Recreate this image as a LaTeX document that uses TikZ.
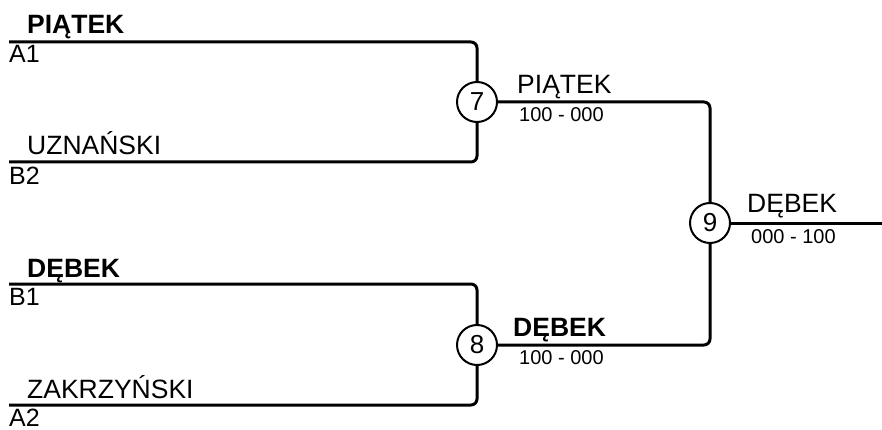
\documentclass[tikz,border=0pt]{standalone}
\usepackage{fontspec}
\setmainfont{Liberation Sans}
\begin{document}
\begin{tikzpicture}[x=1pt,y=-1pt]

\tikzset{
  MatchStyle/.style = { draw, circle, line width=2pt, minimum size=40pt,
                        inner sep=0pt, font = \fontsize{26}{28}\selectfont },
  NameStyle/.style  = { anchor=base west, inner sep=0pt,
                        font = \fontsize{26.5}{30}\selectfont },
  SeedStyle/.style  = { anchor=base west, inner sep=0pt,
                        font = \fontsize{25}{28}\selectfont },
  ScoreStyle/.style = { anchor=base west, inner sep=0pt,
                        font = \fontsize{20}{24}\selectfont },
  LineStyle/.style  = { line width=3pt, rounded corners=6pt } }

  \useasboundingbox (0,0) rectangle (882,430);

  \coordinate (a1) at (9, 42);
  \coordinate (b2) at (9, 162);
  \coordinate (b1) at (9, 284);
  \coordinate (a2) at (9, 405);
  \coordinate (fin) at (882, 223);

  \node[MatchStyle] (m7) at (477, 102) {7};
  \node[MatchStyle] (m8) at (477, 345) {8};
  \node[MatchStyle] (m9) at (710, 223) {9};

  \node[NameStyle] (p1) at (27, 34)  {\bfseries PIĄTEK};
  \node[SeedStyle] (s1) at (9, 63)   {A1};
  \node[NameStyle] (p2) at (27, 155) {UZNAŃSKI};
  \node[SeedStyle] (s2) at (9, 185)  {B2};
  \node[NameStyle] (p3) at (27, 277) {\bfseries DĘBEK};
  \node[SeedStyle] (s3) at (9, 305)  {B1};
  \node[NameStyle] (p4) at (27, 398) {ZAKRZYŃSKI};
  \node[SeedStyle] (s4) at (9, 426)  {A2};

  \node[NameStyle]  (w7) at (517, 94)  {PIĄTEK};
  \node[ScoreStyle] (r7) at (519, 122) {100 - 000};
  \node[NameStyle]  (w8) at (513, 336) {\bfseries DĘBEK};
  \node[ScoreStyle] (r8) at (519, 364) {100 - 000};
  \node[NameStyle]  (w9) at (747, 213) {DĘBEK};
  \node[ScoreStyle] (r9) at (751, 243) {000 - 100};

  \draw[LineStyle] (a1) -| (m7);
  \draw[LineStyle] (b2) -| (m7);
  \draw[LineStyle] (b1) -| (m8);
  \draw[LineStyle] (a2) -| (m8);

  \draw[LineStyle] (m7) -| (m9);
  \draw[LineStyle] (m8) -| (m9);
  \draw[LineStyle] (m9) -- (fin);

\end{tikzpicture}
\end{document}
